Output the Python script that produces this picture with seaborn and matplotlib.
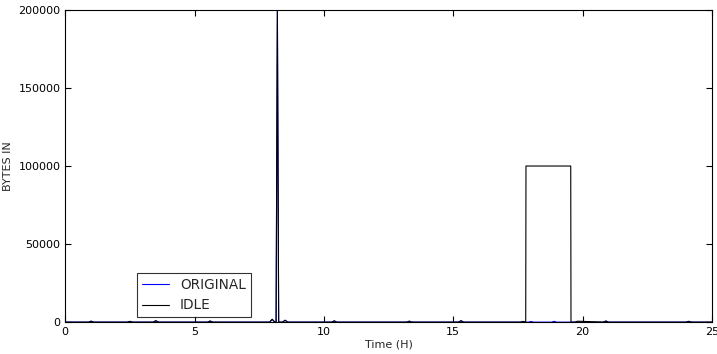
import numpy as np
import pandas as pd
import matplotlib
matplotlib.use('Agg')
import matplotlib.pyplot as plt
import seaborn as sns

## data (time in hours, bytes in)
orig_time = [0.0, 0.9, 1.0, 1.1, 2.4, 2.5, 2.6, 3.4, 3.5, 3.6, 5.5, 5.6, 5.7,
             7.9, 8.0, 8.1, 8.15, 8.2, 8.25, 8.4, 8.5, 8.6, 10.3, 10.4, 10.5,
             13.2, 13.3, 13.4, 15.2, 15.3, 15.4, 17.9, 18.0, 18.1, 18.8, 18.9,
             19.0, 20.8, 20.9, 21.0, 24.0, 24.1, 24.2, 25.0]
orig_bytes = [0, 0, 600, 0, 0, 500, 0, 0, 900, 0, 0, 700, 0,
              0, 1800, 0, 0, 200000, 0, 0, 1200, 0, 0, 800, 0,
              0, 600, 0, 0, 900, 0, 0, 400, 0, 0, 500, 0,
              0, 700, 0, 0, 500, 0, 0]

idle_time = [0.0, 0.9, 1.0, 1.1, 2.4, 2.5, 2.6, 3.4, 3.5, 3.6, 5.5, 5.6, 5.7,
             7.9, 8.0, 8.1, 8.15, 8.2, 8.25, 8.4, 8.5, 8.6, 10.3, 10.4, 10.5,
             13.2, 13.3, 13.4, 15.2, 15.3, 15.4, 17.6, 17.7, 17.8, 17.81,
             19.54, 19.55, 19.7, 19.8, 20.8, 20.9, 21.0, 24.0, 24.1, 24.2, 25.0]
idle_bytes = [0, 0, 600, 0, 0, 500, 0, 0, 900, 0, 0, 700, 0,
              0, 1800, 0, 0, 200000, 0, 0, 1200, 0, 0, 800, 0,
              0, 600, 0, 0, 900, 0, 0, 500, 0, 100000,
              100000, 0, 0, 600, 0, 700, 0, 0, 500, 0, 0]

sns.set_style('ticks')
plt.rcParams['font.family'] = ['DejaVu Sans']

fig, ax = plt.subplots(figsize=(7.17, 3.54), dpi=100)
sns.lineplot(x=orig_time, y=orig_bytes, estimator=None, sort=False,
             color='blue', lw=0.8, label='ORIGINAL', ax=ax)
sns.lineplot(x=idle_time, y=idle_bytes, estimator=None, sort=False,
             color='black', lw=0.8, label='IDLE', ax=ax)

ax.set_xlim(0, 25)
ax.set_ylim(0, 200000)
ax.set_xticks([0, 5, 10, 15, 20, 25])
ax.set_yticks([0, 50000, 100000, 150000, 200000])
ax.tick_params(direction='in', top=True, right=True, labelsize=8, length=4, colors='black')
for s in ax.spines.values():
    s.set_color('black')
    s.set_linewidth(0.8)
ax.set_xlabel('Time (H)', fontsize=8, labelpad=2)
ax.set_ylabel('BYTES IN', fontsize=8)

leg = ax.legend(loc='lower left', bbox_to_anchor=(0.111, 0.016), borderaxespad=0,
                fontsize=9.8, fancybox=False, frameon=True, handlelength=2.0,
                borderpad=0.35, handletextpad=0.8)
leg.get_frame().set_edgecolor('black')
leg.get_frame().set_linewidth(0.8)

plt.subplots_adjust(left=0.091, right=0.993, top=0.972, bottom=0.09)
plt.savefig('out.png', dpi=100)
